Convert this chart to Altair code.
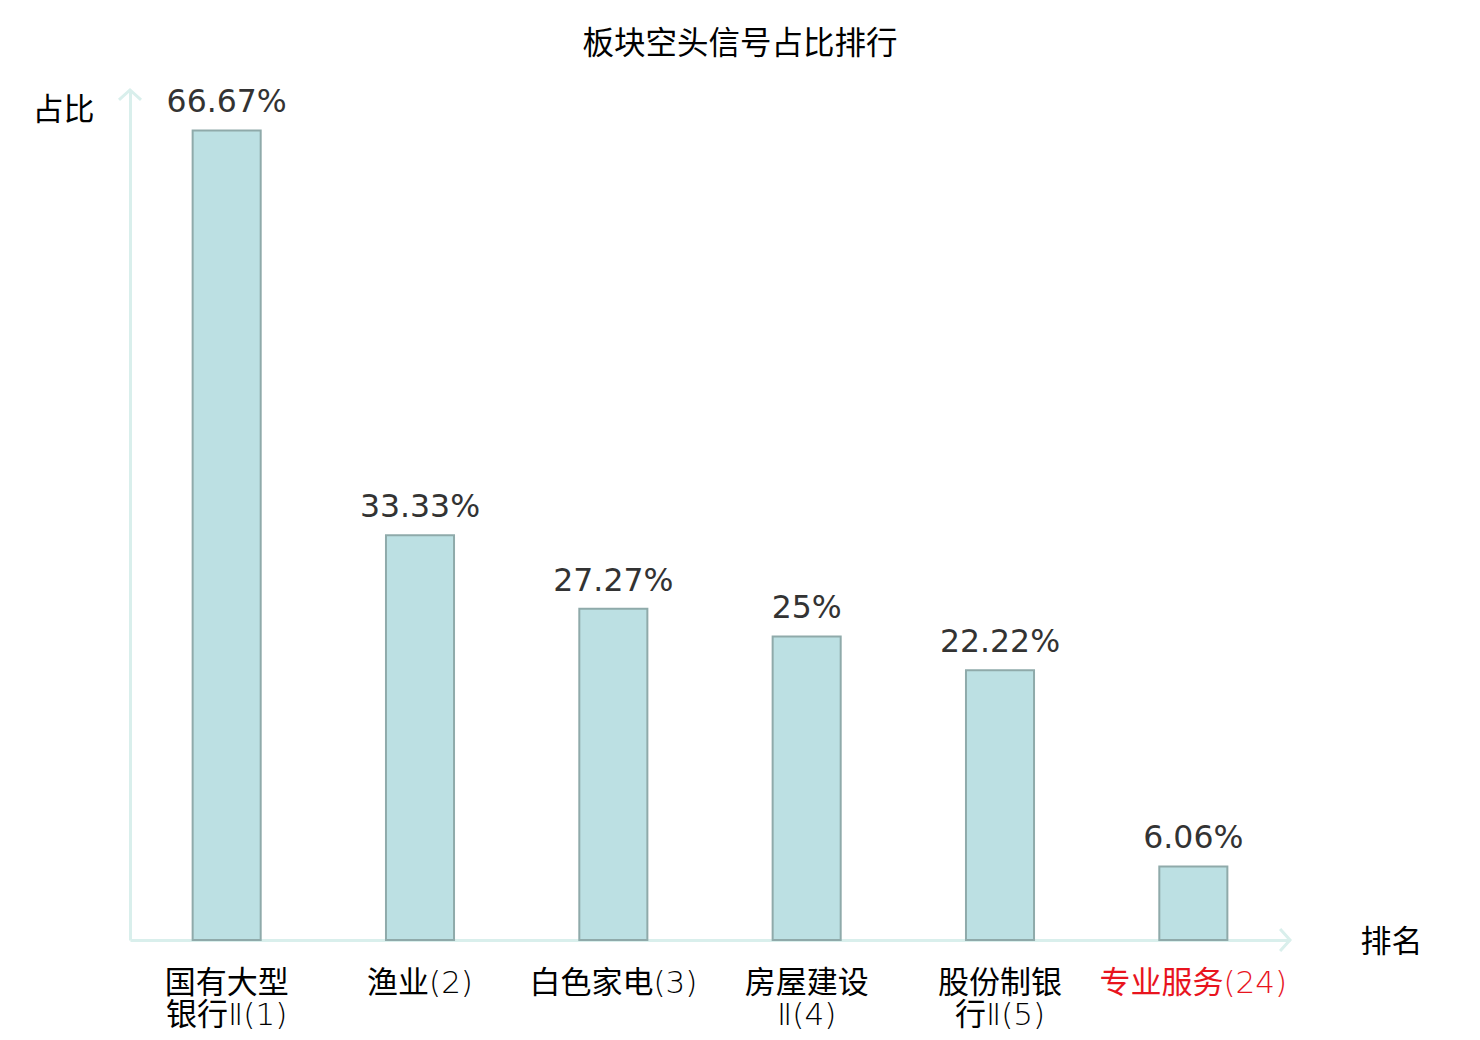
import altair as alt
import pandas as pd

categories = ["国有大型|银行Ⅱ(1)", "渔业(2)", "白色家电(3)", "房屋建设|Ⅱ(4)", "股份制银|行Ⅱ(5)", "专业服务(24)"]
values = [66.67, 33.33, 27.27, 25.0, 22.22, 6.06]
highlight = "专业服务(24)"

df = pd.DataFrame({"cat": categories, "v": values})

FONT = "DejaVu Sans, Noto Sans CJK SC, sans-serif"
CJK = "Noto Sans CJK SC, sans-serif"
LABEL_FONT = "DejaVu Sans Light, Noto Sans CJK SC, sans-serif"
AXIS_COLOR = "#D9EFEC"

x_enc = alt.X(
    "cat:N",
    sort=categories,
    scale=alt.Scale(paddingInner=0.648, paddingOuter=0.324),
    axis=alt.Axis(
        title="排名",
        titleFont=CJK,
        titleFontSize=31,
        titleFontWeight="normal",
        titleColor="#000000",
        titleAngle=0,
        titleX=1261,
        titleY=2,
        titleAlign="center",
        titleBaseline="middle",
        labelExpr="split(datum.label, '|')",
        labelAngle=0,
        labelFont=LABEL_FONT,
        labelFontSize=31,
        labelLimit=0,
        labelColor=alt.expr(f"datum.value == '{highlight}' ? '#E8141E' : '#000000'"),
        labelBaseline="top",
        labelPadding=28,
        labelLineHeight=32,
        ticks=False,
        domainColor=AXIS_COLOR,
        domainWidth=3,
        grid=False,
    ),
)

y_enc = alt.Y(
    "v:Q",
    scale=alt.Scale(domain=[0, 70], nice=False),
    axis=alt.Axis(
        title="占比",
        titleFont=CJK,
        titleFontSize=31,
        titleFontWeight="normal",
        titleColor="#000000",
        titleAngle=0,
        titleX=-67,
        titleY=20,
        titleAlign="center",
        titleBaseline="middle",
        labels=False,
        ticks=False,
        grid=False,
        domainColor=AXIS_COLOR,
        domainWidth=3,
    ),
)

bars = alt.Chart(df).mark_bar(
    fill="#BCE0E3", stroke="#8FAAAA", strokeWidth=2
).encode(x=x_enc, y=y_enc)

labels = alt.Chart(df).transform_calculate(
    lbl="format(datum.v/100, '.2~%')"
).mark_text(
    font=FONT, fontSize=31.5, color="#333333", baseline="alphabetic", dy=-18
).encode(x=alt.X("cat:N", sort=categories), y="v:Q", text="lbl:N")

arrow_up = alt.Chart(pd.DataFrame({"a": [0]})).mark_point(
    shape="M-1,0.9L0,0L1,0.9", size=484, filled=False, stroke=AXIS_COLOR, strokeWidth=3, opacity=1
).encode(x=alt.value(0), y=alt.datum(70))

arrow_right = alt.Chart(pd.DataFrame({"a": [0]})).mark_point(
    shape="M-0.9,-1L0,0L-0.9,1", size=484, filled=False, stroke=AXIS_COLOR, strokeWidth=3, opacity=1
).encode(x=alt.value(1160), y=alt.datum(0))

chart = alt.layer(bars, labels, arrow_up, arrow_right).properties(
    width=1160,
    height=850,
    autosize=alt.AutoSizeParams(type="none"),
    padding={"left": 122, "top": 82, "right": 180, "bottom": 92},
    title=alt.TitleParams(
        "板块空头信号占比排行",
        font=CJK,
        fontSize=31.5,
        fontWeight="normal",
        color="#000000",
        anchor="middle",
        dx=30,
        offset=24,
    ),
).configure(background="white").configure_view(stroke=None)

chart.save("out.html", embed_options={"renderer": "svg", "actions": False})
